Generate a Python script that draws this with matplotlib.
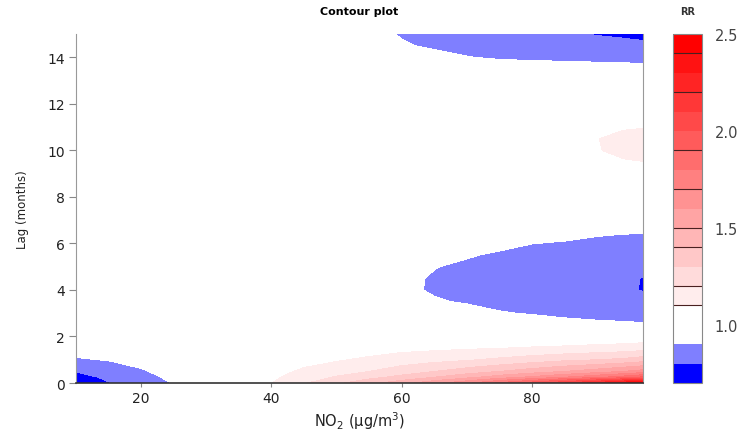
import matplotlib
matplotlib.use("Agg")
import matplotlib.pyplot as plt
import numpy as np

# NO2 concentration (columns) and lag in months (rows)
no2 = [10, 15, 20, 25, 30, 35, 40, 45, 50, 55, 60, 65, 70, 75, 80, 85, 90, 94, 97]
lags = [0, 0.25, 0.5, 1, 1.5, 2, 2.5, 3, 3.5, 4, 4.5, 5, 5.5, 6, 6.5, 7, 8, 9,
        9.5, 10, 10.5, 11, 12, 13, 13.5, 14, 14.5, 15]

# relative risk, one row per lag
rr = [
    [0.72, 0.795, 0.85, 0.905, 0.96, 1.03, 1.098, 1.19, 1.28, 1.37, 1.46, 1.57, 1.68, 1.82, 1.96, 2.10, 2.25, 2.38, 2.48],
    [0.76, 0.82, 0.87, 0.92, 0.965, 1.025, 1.08, 1.15, 1.21, 1.27, 1.33, 1.40, 1.47, 1.55, 1.62, 1.70, 1.78, 1.85, 1.92],
    [0.805, 0.845, 0.89, 0.935, 0.97, 1.02, 1.06, 1.12, 1.16, 1.20, 1.25, 1.30, 1.35, 1.40, 1.45, 1.50, 1.55, 1.60, 1.64],
    [0.89, 0.905, 0.93, 0.96, 0.98, 1.01, 1.03, 1.06, 1.09, 1.12, 1.15, 1.17, 1.19, 1.22, 1.25, 1.28, 1.30, 1.32, 1.35],
    [0.94, 0.95, 0.96, 0.975, 0.99, 1.0, 1.01, 1.03, 1.04, 1.05, 1.07, 1.08, 1.09, 1.098, 1.11, 1.12, 1.135, 1.145, 1.16],
    [0.97, 0.975, 0.98, 0.985, 0.995, 1.0, 1.0, 1.01, 1.0, 1.0, 1.0, 1.0, 1.005, 1.01, 1.01, 1.015, 1.02, 1.025, 1.03],
    [0.99, 0.99, 0.995, 1.0, 1.0, 1.0, 1.0, 1.0, 0.99, 0.985, 0.98, 0.97, 0.96, 0.95, 0.94, 0.93, 0.92, 0.915, 0.91],
    [1.0, 1.0, 1.0, 1.0, 1.0, 1.0, 1.0, 0.99, 0.975, 0.965, 0.95, 0.935, 0.92, 0.905, 0.895, 0.88, 0.87, 0.865, 0.86],
    [1.01, 1.01, 1.005, 1.0, 1.0, 1.0, 0.995, 0.98, 0.96, 0.945, 0.925, 0.905, 0.895, 0.88, 0.865, 0.85, 0.84, 0.83, 0.82],
    [1.02, 1.015, 1.01, 1.005, 1.0, 1.0, 0.99, 0.975, 0.955, 0.935, 0.912, 0.894, 0.882, 0.866, 0.85, 0.835, 0.822, 0.81, 0.797],
    [1.02, 1.015, 1.01, 1.005, 1.0, 1.0, 0.99, 0.975, 0.955, 0.935, 0.912, 0.895, 0.882, 0.866, 0.85, 0.835, 0.822, 0.81, 0.798],
    [1.02, 1.015, 1.01, 1.005, 1.0, 1.0, 0.99, 0.978, 0.96, 0.94, 0.92, 0.902, 0.89, 0.875, 0.862, 0.85, 0.835, 0.825, 0.815],
    [1.015, 1.01, 1.01, 1.005, 1.0, 1.0, 0.995, 0.982, 0.965, 0.95, 0.935, 0.92, 0.905, 0.892, 0.88, 0.87, 0.86, 0.85, 0.845],
    [1.01, 1.01, 1.005, 1.0, 1.0, 1.0, 0.995, 0.985, 0.97, 0.96, 0.95, 0.94, 0.925, 0.915, 0.901, 0.895, 0.885, 0.88, 0.875],
    [1.01, 1.005, 1.0, 1.0, 1.0, 1.0, 1.0, 0.99, 0.98, 0.97, 0.965, 0.955, 0.945, 0.935, 0.925, 0.92, 0.91, 0.905, 0.905],
    [1.0, 1.0, 1.0, 1.0, 1.0, 1.0, 1.0, 0.995, 0.985, 0.98, 0.975, 0.97, 0.96, 0.95, 0.945, 0.94, 0.935, 0.932, 0.93],
    [1.0, 1.0, 1.0, 1.0, 1.0, 1.0, 1.0, 1.0, 1.0, 1.0, 0.995, 0.995, 0.995, 0.99, 0.99, 0.99, 0.99, 0.99, 0.99],
    [0.99, 0.99, 0.995, 1.0, 1.0, 1.0, 1.0, 1.0, 1.005, 1.01, 1.015, 1.02, 1.025, 1.03, 1.03, 1.04, 1.05, 1.055, 1.06],
    [1.0, 1.0, 1.0, 1.0, 1.0, 1.0, 1.0, 1.0, 1.01, 1.015, 1.02, 1.03, 1.035, 1.045, 1.05, 1.065, 1.085, 1.095, 1.099],
    [1.0, 1.0, 1.0, 1.0, 1.0, 1.0, 1.0, 1.005, 1.015, 1.02, 1.03, 1.04, 1.05, 1.06, 1.07, 1.08, 1.097, 1.113, 1.118],
    [1.0, 1.0, 1.0, 1.0, 1.0, 1.0, 1.0, 1.005, 1.015, 1.02, 1.03, 1.04, 1.05, 1.06, 1.07, 1.08, 1.099, 1.113, 1.117],
    [1.0, 1.0, 1.0, 1.0, 1.0, 1.0, 1.0, 1.0, 1.01, 1.015, 1.025, 1.035, 1.04, 1.05, 1.055, 1.07, 1.085, 1.095, 1.098],
    [1.0, 1.0, 1.0, 1.0, 1.0, 1.0, 1.0, 1.0, 1.0, 1.005, 1.01, 1.015, 1.02, 1.02, 1.025, 1.03, 1.035, 1.04, 1.04],
    [1.0, 1.0, 1.0, 1.0, 1.0, 1.0, 1.0, 1.0, 0.995, 0.99, 0.99, 0.985, 0.985, 0.98, 0.98, 0.978, 0.975, 0.972, 0.97],
    [1.0, 1.0, 1.0, 1.0, 1.0, 1.0, 0.995, 0.99, 0.98, 0.975, 0.97, 0.96, 0.95, 0.945, 0.94, 0.938, 0.935, 0.932, 0.93],
    [1.01, 1.01, 1.005, 1.0, 1.0, 1.0, 0.99, 0.98, 0.97, 0.96, 0.94, 0.92, 0.903, 0.89, 0.885, 0.88, 0.875, 0.871, 0.868],
    [1.02, 1.02, 1.015, 1.01, 1.0, 1.0, 0.98, 0.965, 0.95, 0.935, 0.907, 0.89, 0.875, 0.865, 0.855, 0.845, 0.835, 0.827, 0.82],
    [1.05, 1.04, 1.03, 1.02, 1.01, 1.0, 0.98, 0.96, 0.94, 0.92, 0.895, 0.875, 0.855, 0.84, 0.826, 0.81, 0.795, 0.785, 0.775],
]

levels = [0.7, 0.8, 0.9, 1.0, 1.1, 1.2, 1.3, 1.4, 1.5, 1.6, 1.7, 1.8, 1.9, 2.0,
          2.1, 2.2, 2.3, 2.4, 2.5]
bar_ticks = [1.0, 1.5, 2.0, 2.5]
bar_lines = [1.1, 1.2, 1.4, 1.5, 1.7, 1.9, 2.2, 2.4]

# blue -> white below 1, white -> red above 1 (as in dlnm)
blues = ["#0000FF", "#7F7FFF", "#FFFFFF"]
reds = []
for i in range(15):
    v = int(round(255 * (1 - i / 14)))
    reds.append("#FF%02X%02X" % (v, v))
colors = blues + reds

plt.rcParams["font.family"] = ["DejaVu Sans"]

fig = plt.figure(figsize=(7.47, 4.31), dpi=100)
ax = fig.add_axes([0.1017, 0.109, 0.759, 0.8097])
cax = fig.add_axes([0.9009, 0.109, 0.0388, 0.8097])

X, Y = np.meshgrid(no2, lags)
cs = ax.contourf(X, Y, np.array(rr), levels=levels, colors=colors)

ax.set_xlim(10, 97)
ax.set_ylim(0, 15)
ax.set_xticks([20, 40, 60, 80])
ax.set_yticks(range(0, 15, 2))
ax.tick_params(labelsize=10, color="#888888", labelcolor="#222222", pad=3)
ax.tick_params(axis="x", length=3)
ax.tick_params(axis="y", length=5)
ax.spines["top"].set_visible(False)
ax.spines["left"].set_color("#999999")
ax.spines["right"].set_color("#999999")
ax.spines["bottom"].set_color("#333333")
ax.spines["bottom"].set_linewidth(1.2)
ax.set_xlabel("NO$_2$ (µg/m$^3$)", fontsize=10.5, color="#222222", labelpad=3)
ax.set_ylabel("Lag (months)", fontsize=8.5, color="#222222", labelpad=13)

cb = fig.colorbar(cs, cax=cax, ticks=bar_ticks)
cb.ax.set_yticklabels(["%.1f" % t for t in bar_ticks])
cb.ax.tick_params(length=0, pad=9, labelsize=10.5, labelcolor="#444444")
cb.outline.set_edgecolor("#888888")
cb.outline.set_linewidth(0.8)
for lv in bar_lines:
    cb.ax.axhline(lv, color="#4a2020", linewidth=0.8)

fig.text(0.4813, 0.972, "Contour plot", ha="center", va="center",
         fontsize=8, fontweight="bold")
fig.text(0.921, 0.972, "RR", ha="center", va="center",
         fontsize=7, fontweight="bold", color="#333333")

fig.savefig("out.png", dpi=100)
